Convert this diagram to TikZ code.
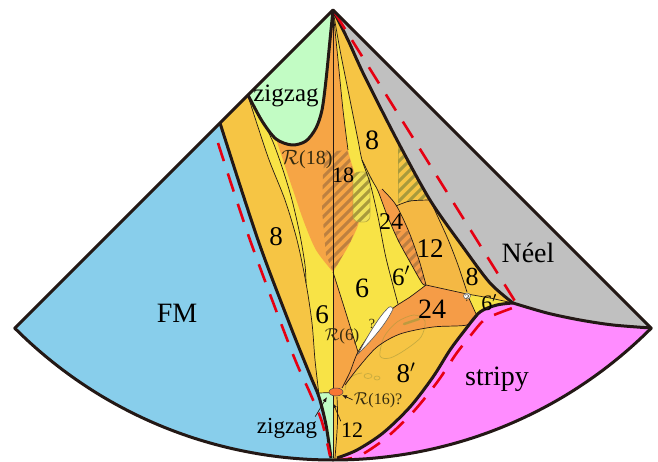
\documentclass[tikz,border=0pt]{standalone}
\usepackage{fontspec}
\setmainfont{Liberation Serif}
\usetikzlibrary{arrows.meta}
\definecolor{fmblue}{HTML}{88CEEB}
\definecolor{zzgreen}{HTML}{C2FCC4}
\definecolor{neelgray}{HTML}{C0C0C0}
\definecolor{stripink}{HTML}{FF8CFF}
\definecolor{ph8}{HTML}{F6C544}
\definecolor{ph6}{HTML}{F8E346}
\definecolor{ph18}{HTML}{F6A545}
\definecolor{ph24}{HTML}{F59C47}
\definecolor{ph12}{HTML}{F4B844}
\definecolor{blobyellow}{HTML}{EFE15A}
\definecolor{bdline}{HTML}{231815}
\definecolor{dashred}{HTML}{E60012}
\definecolor{hatchbrown}{HTML}{B47A40}
\definecolor{hatcholive}{HTML}{A89A3C}
\definecolor{lbltext}{HTML}{322A10}
\newcommand{\fsz}[1]{\fontsize{#1}{#1}\selectfont}

\begin{document}
\begin{tikzpicture}[x=1pt, y=-1pt,
    thickbd/.style={bdline, line width=3pt, line join=round},
    thinbd/.style={bdline, line width=0.7pt},
    reddash/.style={dashred, line width=2.6pt, dash pattern=on 19pt off 13pt},
    stripe/.style={line width=3pt},
    phaselbl/.style={font=\fsz{28}, anchor=base, inner sep=1pt},
    numlbl/.style={font=\fsz{27}, anchor=base, inner sep=1pt},
    rlbl/.style={font=\fsz{17}, anchor=base, inner sep=1pt, text=lbltext},
    faint/.style={hatcholive, opacity=0.6, line width=0.7pt},
    pointer/.style={bdline, line width=0.7pt, -{Latex[length=5pt, width=4pt]}}]
  \useasboundingbox (0,0) rectangle (658,462);
  \begin{scope}
    \clip (333,10) -- (14.8,328.2) arc[start angle=135, end angle=45, radius=450] -- cycle;
    % base: phase 8
    \fill[ph8] (0,0) rectangle (658,462);
    % phases 6 and 6'
    \fill[ph6] (248,96) -- (333,10)
      -- plot[smooth] coordinates {(333,10) (340,50) (350,100) (358,140) (362,160) (372,180) (378,191) (387,215) (398,240) (410,262) (422,283) (426,285)}
      -- plot[smooth] coordinates {(426,285) (410,297) (392,309) (375,327) (358,352) (350,372) (342,388)}
      -- (333,393) -- (319,393)
      -- plot[smooth] coordinates {(319,395) (315,360) (312,323) (306,283) (297,240) (285,200) (268,157) (248,96)} -- cycle;
    % R(18)
    \fill[ph18] (276,139) -- (280,90) -- (333,10)
      -- plot[smooth] coordinates {(333,10) (338,60) (343,110) (348,150) (357,183) (360,217) (350,243) (333,272)}
      -- plot[smooth] coordinates {(333,272) (316,250) (304,222) (293,190) (283,160) (276,139)} -- cycle;
    % R(6)
    \fill[ph18] (333,272) -- plot[smooth] coordinates {(333,272) (345,310) (358,352)}
      -- plot[smooth] coordinates {(358,352) (350,372) (342,388)} -- (333,393) -- cycle;
    % upper 24
    \fill[ph24] plot[smooth] coordinates {(378,191) (387,215) (398,240) (410,262) (422,283) (426,285)}
      -- plot[smooth] coordinates {(426,285) (419,260) (409,232) (396,205) (382,189)} -- cycle;
    % 12
    \fill[ph12] plot[smooth] coordinates {(396,206) (410,201) (430,200)}
      -- plot[smooth] coordinates {(430,200) (447,237) (458,265) (467,292)}
      -- (426,285) -- plot[smooth] coordinates {(426,285) (419,260) (409,232) (396,206)} -- cycle;
    % lower 24
    \fill[ph24] plot[smooth] coordinates {(342,388) (350,372) (358,352) (375,327) (392,309) (410,297) (426,285)}
      -- (467,294) -- (477,316)
      -- plot[smooth] coordinates {(477,316) (467,325) (433,327) (400,334) (377,347) (358,368) (345,385) (342,388)} -- cycle;
    % small 6'
    \fill[ph6] (467,294) -- (490,298) -- (513,303) -- (497,305) -- (480,312) -- (477,316) -- cycle;
    % hatches
    \begin{scope}
      \clip (325,152) -- (347,150) -- (357,183) -- (360,217) -- (350,243) -- (333,272) -- (326,255) -- (322,210) -- (323,175) -- cycle;
      \foreach \k in {0,...,19} \draw[stripe, hatchbrown, opacity=0.85] (300,150+10*\k) -- ++(80,-80);
    \end{scope}
    \begin{scope}
      \clip[rounded corners=6pt] (353,172) rectangle (370,222);
      \fill[blobyellow] (353,172) rectangle (370,222);
      \foreach \k in {0,...,9} \draw[stripe, hatcholive] (340,180+10*\k) -- ++(50,-50);
    \end{scope}
    \draw[faint, rounded corners=6pt] (353,172) rectangle (370,222);
    \begin{scope}
      \clip (398,145) -- (398,203) -- (431,199) -- cycle;
      \foreach \k in {0,...,10} \draw[stripe, hatcholive] (390,150+10*\k) -- ++(50,-50);
    \end{scope}
    \draw[faint] (398,145) -- (398,203);
    \begin{scope}
      \clip plot[smooth] coordinates {(378,191) (387,215) (398,240) (410,262) (422,283) (426,285)}
        -- plot[smooth] coordinates {(426,285) (419,260) (409,232) (396,205) (382,189)} -- cycle;
      \clip (380,232) rectangle (430,290);
      \foreach \k in {0,...,10} \draw[stripe, hatchbrown, opacity=0.85] (380,240+10*\k) -- ++(50,-50);
    \end{scope}
    % faint outlines
    \draw[faint] plot[smooth cycle] coordinates {(380,356) (384,337) (397,322) (414,315) (425,321) (421,337) (405,350) (390,358)};
    \draw[hatcholive, opacity=0.7, line width=2.5pt, line cap=round] (404,324) -- (419,319);
    \draw[faint] (368,376) ellipse (4 and 2.5);
    \draw[faint] (377,378) ellipse (3 and 2);
    \draw[faint] (345,390) .. controls (346,380) and (352,374) .. (362,373);
    % outer phases
    \fill[zzgreen] (310,392.5) -- (333,392.5) -- (333,470) -- (310,470) -- cycle;
    \fill[fmblue] (-50,0) -- (214,106)
      -- plot[smooth] coordinates {(220,123) (258,240) (290,325) (310,375) (319,397) (326,425) (331,458) (331,470)}
      -- (331,520) -- (-50,520) -- cycle;
    \fill[zzgreen] (230,78) -- plot[smooth] coordinates {(248,95) (262,121) (276,139) (292,145) (306,141) (316,128) (322,110) (326,80) (330,40) (333,10)} -- (333,-10) -- cycle;
    \fill[stripink] plot[smooth] coordinates {(513,303) (497,305) (480,312) (465,330) (450,350) (433,377) (410,407) (383,433) (357,450) (337,458) (336,470)}
      -- (336,520) -- (720,520) -- (720,335) -- (651,328) -- cycle;
    \fill[neelgray] plot[smooth] coordinates {(333,10) (348,40) (364,75) (397,140) (430,200) (463,247) (490,283) (513,303)}
      -- plot[smooth] coordinates {(513,303) (547,313) (580,320) (613,325) (651,328) (680,331)}
      -- (720,300) -- (420,-30) -- (333,-10) -- cycle;
    % thin boundaries
    \draw[thinbd] (333,10) -- (333,458);
    \draw[thinbd] plot[smooth] coordinates {(333,10) (338,60) (343,110) (348,150)};
    \draw[thinbd] plot[smooth] coordinates {(333,10) (340,50) (350,100) (358,140) (362,160) (370,183) (378,217) (386,258) (398,304)};
    \draw[thinbd] plot[smooth] coordinates {(362,160) (372,180) (378,191) (387,215) (398,240) (410,262) (422,283) (426,285)};
    \draw[thinbd] plot[smooth] coordinates {(382,189) (396,205) (409,232) (419,260) (426,285)};
    \draw[thinbd] plot[smooth] coordinates {(396,206) (410,201) (430,200)};
    \draw[thinbd] plot[smooth] coordinates {(430,200) (447,237) (458,265) (467,292)};
    \draw[thinbd] (426,285) -- (467,294) -- (490,298) -- (513,303);
    \draw[thinbd] plot[smooth] coordinates {(342,388) (350,372) (358,352) (375,327) (392,309) (410,297) (426,285)};
    \draw[thinbd] plot[smooth] coordinates {(467,294) (472,305) (477,316)};
    \draw[thinbd] plot[smooth] coordinates {(477,316) (467,325) (433,327) (400,334) (377,347) (358,368) (345,385)};
    \draw[thinbd] plot[smooth] coordinates {(333,272) (345,310) (358,352)};
    \draw[thinbd] plot[smooth] coordinates {(248,96) (268,157) (285,200) (297,240) (306,283) (312,323) (315,360) (319,395)};
    \draw[thinbd] plot[smooth] coordinates {(251,100) (262,120) (273,142) (283,170) (292,200) (300,235) (305,265) (306,283)};
    \draw[thinbd] (319,393) -- (333,392.5);
    \draw[thinbd] (337,397) .. controls (338,420) .. (335,458);
    % thick boundaries
    \draw[thickbd] plot[smooth] coordinates {(220,123) (258,240) (290,325) (310,375) (319,397) (326,425) (331,458)};
    \draw[thickbd] plot[smooth] coordinates {(248,95) (262,121) (276,139) (292,145) (306,141) (316,128) (322,110) (326,80) (330,40) (333,10)};
    \draw[thickbd] plot[smooth] coordinates {(333,10) (348,40) (364,75) (397,140) (430,200) (463,247) (490,283) (513,303)};
    \draw[thickbd] plot[smooth] coordinates {(513,303) (547,313) (580,320) (613,325) (651,328)};
    \draw[thickbd] plot[smooth] coordinates {(513,303) (497,305) (480,312) (465,330) (450,350) (433,377) (410,407) (383,433) (357,450) (337,458)};
    % red dashed lines
    \draw[reddash] plot[smooth] coordinates {(218,143) (250,240) (292,352) (310,393) (322,422) (330,456)};
    \draw[reddash] (335,13) -- (518,306)
      -- plot[smooth] coordinates {(518,306) (499,313) (484,320) (471,335) (456,354) (438,381) (414,411) (386,438) (359,456) (338,460)};
  \end{scope}
  \draw[thickbd] (333,10) -- (14.8,328.2) arc[start angle=135, end angle=45, radius=450] -- cycle;
  % sliver and blob
  \draw[gray!70!black, line width=0.6pt, fill=white] (393,309) .. controls (386,324) and (372,340) .. (358,354)
    .. controls (367,337) and (378,318) .. (387,309) .. controls (389,306) and (392,306) .. (393,309) -- cycle;
  \draw[fill=white, draw=gray!70!black, line width=0.5pt] (467,296) ellipse (3.5 and 3);
  \draw[fill=ph24!75!red, draw=bdline!80, line width=0.5pt] (336,392) ellipse (7 and 4);
  % labels
  \node[phaselbl] (lblFM) at (177,322) {FM};
  \node[phaselbl] (lblneel) at (528,262) {Néel};
  \node[phaselbl] (lblstripy) at (497,385) {stripy};
  \node[phaselbl, font=\fsz{25}] (lblzztop) at (286,102) {zigzag};
  \node[phaselbl, font=\fsz{23}] (lblzzbot) at (287,433) {zigzag};
  \node[numlbl] (lbl8a) at (276,246) {8};
  \node[numlbl, font=\fsz{28}] (lbl8b) at (372,150) {8};
  \node[numlbl, font=\fsz{22}] (lbl18) at (343,183) {18};
  \node[numlbl, font=\fsz{24}] (lbl24a) at (391,230) {24};
  \node[numlbl] (lbl12a) at (430,258) {12};
  \node[numlbl, font=\fsz{25}] (lbl6pa) at (401,285) {6$'$};
  \node[numlbl, font=\fsz{28}] (lbl6a) at (362,297) {6};
  \node[numlbl] (lbl6b) at (322,323) {6};
  \node[numlbl, font=\fsz{28}] (lbl24b) at (432,318) {24};
  \node[numlbl, font=\fsz{26}] (lbl8c) at (472,285) {8};
  \node[numlbl, font=\fsz{22}] (lbl6pb) at (489,310) {6$'$};
  \node[numlbl] (lbl8p) at (406,382) {8$'$};
  \node[numlbl, font=\fsz{22}] (lbl12b) at (352,437) {12};
  \node[rlbl, font=\fsz{20}] (lblR18) at (307,165) {$\mathcal{R}$(18)};
  \node[rlbl] (lblR6) at (342,340) {$\mathcal{R}$(6)};
  \node[rlbl, font=\fsz{16}] (lblR16) at (378,404) {$\mathcal{R}$(16)?};
  \node[rlbl, font=\fsz{14}] (lblq1) at (372,328) {?};
  \node[rlbl, font=\fsz{10}, inner sep=0pt] (lblq2) at (467,301) {?};
  % pointers
  \coordinate (zzspot) at (327,397);
  \coordinate (twelvespot) at (333,403);
  \coordinate (blobspot) at (342,395);
  \draw[pointer] ([xshift=-3pt]lblzzbot.north east) -- (zzspot);
  \draw[pointer] ([xshift=1pt]lbl12b.north west) -- (twelvespot);
  \draw[pointer] (lblR16.west) -- (blobspot);
\end{tikzpicture}
\end{document}
